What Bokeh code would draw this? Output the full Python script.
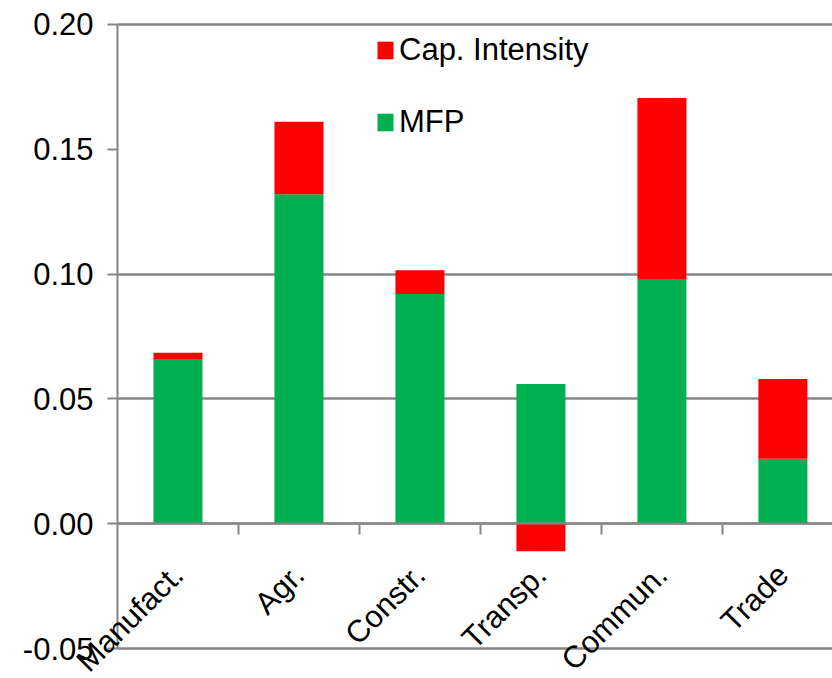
import math
from bokeh.plotting import figure
from bokeh.models import (Range1d, FixedTicker, PrintfTickFormatter, ColumnDataSource,
                          Legend, LegendItem, Label)
from bokeh.embed import file_html
from bokeh.resources import INLINE

# ---- data ----
categories = ["Manufact.", "Agr.", "Constr.", "Transp.", "Commun.", "Trade"]
mfp = [0.066, 0.132, 0.092, 0.056, 0.098, 0.026]
cap_intensity = [0.0025, 0.029, 0.0095, -0.011, 0.0725, 0.032]
y_ticks = [-0.05, 0.0, 0.05, 0.10, 0.15, 0.20]
grid_ticks = [-0.05, 0.0, 0.05, 0.10, 0.20]
y_min, y_max = -0.05, 0.20

GREEN = "#00B050"
RED = "#FF0000"
GRAY = "#868686"
FONT = "Liberation Sans"

n = len(categories)
xs = [i + 0.5 for i in range(n)]
boundaries = [i for i in range(1, n)]
cap_bottom = [m if c >= 0 else 0.0 for m, c in zip(mfp, cap_intensity)]
cap_top = [b + c for b, c in zip(cap_bottom, cap_intensity)]

src = ColumnDataSource(dict(
    x=xs, cat=categories, zero=[0.0] * n,
    mfp=mfp, cap_bottom=cap_bottom, cap_top=cap_top,
))

# frame covers the whole canvas so the slanted labels are not clipped;
# the visible chart area is bounded by the axes' bounds
X_START, X_END = -0.967, 5.91
p = figure(width=832, height=678, output_backend="svg", toolbar_location=None,
           x_range=Range1d(X_START, X_END), y_range=Range1d(-0.062, 0.2096),
           min_border=0)
p.outline_line_color = None
p.background_fill_color = "white"
p.border_fill_color = "white"

bar_w = 0.405
r_mfp = p.vbar(x="x", top="mfp", bottom="zero", width=bar_w, source=src,
               fill_color=GREEN, line_color=None)
r_cap = p.vbar(x="x", top="cap_top", bottom="cap_bottom", width=bar_w, source=src,
               fill_color=RED, line_color=None)

# y axis at x = 0
yax = p.yaxis[0]
yax.fixed_location = 0
yax.bounds = (y_min, y_max)
yax.ticker = FixedTicker(ticks=y_ticks)
yax.formatter = PrintfTickFormatter(format="%.2f")
yax.axis_line_color = GRAY
yax.axis_line_width = 2
yax.major_tick_line_color = GRAY
yax.major_tick_line_width = 2
yax.major_tick_out = 10
yax.major_tick_in = 0
yax.minor_tick_line_color = None
yax.major_label_standoff = 14
yax.major_label_text_font = FONT
yax.major_label_text_font_size = "31px"
yax.major_label_text_color = "black"

# x axis at y = 0, with ticks between categories (labels drawn separately)
xax = p.xaxis[0]
xax.fixed_location = 0
xax.bounds = (0, X_END)
xax.ticker = FixedTicker(ticks=boundaries)
xax.axis_line_color = GRAY
xax.axis_line_width = 2
xax.major_tick_line_color = GRAY
xax.major_tick_line_width = 2
xax.major_tick_out = 11
xax.major_tick_in = 0
xax.minor_tick_line_color = None
xax.major_label_text_color = None
xax.major_label_text_font_size = "1px"
xax.major_label_standoff = 0

# grid
p.xgrid.grid_line_color = None
p.ygrid.ticker = FixedTicker(ticks=grid_ticks)
p.ygrid.cross_bounds = (0, X_END)
p.ygrid.grid_line_color = GRAY
p.ygrid.grid_line_width = 2.5

# category labels, rotated 45 degrees, hanging below the zero line
for xv, cat in zip(xs, categories):
    p.add_layout(Label(x=xv, y=0, text=cat, angle=math.pi / 4,
                       text_align="right", text_baseline="middle", y_offset=-46,
                       text_font=FONT, text_font_size="31px", text_color="black"))

legend = Legend(items=[LegendItem(label="Cap. Intensity", renderers=[r_cap]),
                       LegendItem(label="MFP", renderers=[r_mfp])],
                location=(375, 538), orientation="vertical",
                glyph_width=20, glyph_height=22, label_height=36, spacing=36,
                label_standoff=4, padding=0, margin=0,
                border_line_color=None, background_fill_alpha=0,
                label_text_font=FONT, label_text_font_size="31px",
                label_text_color="black")
p.add_layout(legend)

open("out.html", "w").write(file_html(p, INLINE))
